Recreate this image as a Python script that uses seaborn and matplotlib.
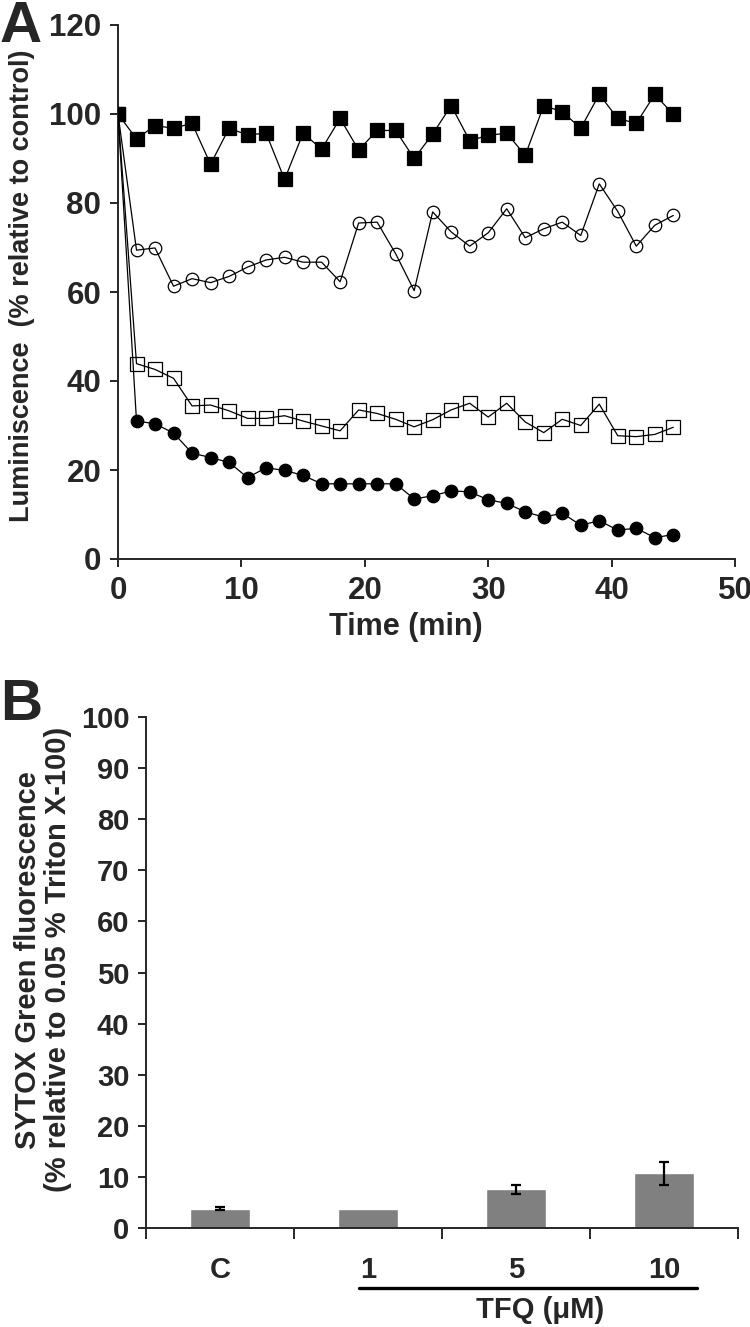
import numpy as np
import matplotlib
matplotlib.use("Agg")
import matplotlib.pyplot as plt
import seaborn as sns

# Panel A: luminiscence over time (sampled every 1.5 min)
time_min = [0, 1.5, 3, 4.5, 6, 7.5, 9, 10.5, 12, 13.5, 15, 16.5, 18, 19.5, 21, 22.5,
            24, 25.5, 27, 28.5, 30, 31.5, 33, 34.5, 36, 37.5, 39, 40.5, 42, 43.5, 45]
control = [100, 94.4, 97.4, 96.8, 97.9, 88.7, 96.8, 95.3, 95.7, 85.3, 95.7, 92.1, 99.0,
           91.9, 96.3, 96.3, 90.0, 95.5, 101.9, 94.0, 95.2, 95.7, 90.7, 101.9, 100.5,
           96.8, 104.4, 99.0, 97.9, 104.4, 99.9]
tfq_1 = [100, 69.4, 69.9, 61.3, 63.0, 62.1, 63.5, 65.6, 67.2, 67.8, 66.7, 66.7, 62.3,
         75.5, 75.7, 68.6, 60.3, 78.0, 73.5, 70.3, 73.3, 78.7, 72.2, 74.2, 75.7, 72.7,
         84.3, 78.1, 70.3, 75.0, 77.2]
tfq_5 = [100, 43.9, 42.6, 40.6, 34.4, 34.6, 33.3, 31.6, 31.6, 32.2, 31.0, 29.9, 28.8,
         33.5, 32.7, 31.4, 29.7, 31.3, 33.5, 35.0, 31.9, 35.0, 30.8, 28.4, 31.4, 30.0,
         34.8, 27.7, 27.5, 28.0, 29.6]
tfq_10 = [100, 31.0, 30.4, 28.3, 23.8, 22.8, 21.7, 18.3, 20.5, 19.9, 18.8, 16.9, 16.9,
          16.9, 16.9, 16.9, 13.5, 14.2, 15.3, 15.1, 13.3, 12.5, 10.6, 9.4, 10.3, 7.6,
          8.6, 6.5, 6.9, 4.8, 5.5]

# Panel B: SYTOX Green uptake
groups = ["C", "1", "5", "10"]
sytox_mean = [3.8, 3.8, 7.6, 10.7]
sytox_err = [0.3, 0.0, 0.9, 2.2]

sns.set_style("ticks")
plt.rcParams["font.family"] = ["Liberation Sans", "DejaVu Sans"]
plt.rcParams["font.weight"] = "bold"
plt.rcParams["axes.linewidth"] = 1.4

fig = plt.figure(figsize=(7.5, 13.27), dpi=100)
W, H = 750, 1327
ax_a = fig.add_axes([118 / W, 1 - 559 / H, 617 / W, 534 / H])
ax_b = fig.add_axes([146 / W, 1 - 1228 / H, 592 / W, 511 / H])

# ---- panel A ----
series = [
    (tfq_10, "o", "black", 9),
    (tfq_5, "s", "none", 9.5),
    (tfq_1, "o", "none", 9),
    (control, "s", "black", 9.5),
]
for i, (vals, mk, face, ms) in enumerate(series):
    sns.lineplot(x=time_min, y=vals, ax=ax_a, color="black", linewidth=0.9,
                 marker=mk, markersize=ms, markerfacecolor=face,
                 markeredgecolor="black", markeredgewidth=0.9, zorder=3 + i)

ax_a.set_xlim(0, 50)
ax_a.set_ylim(0, 120)
ax_a.set_xticks(range(0, 51, 10))
ax_a.set_yticks(range(0, 121, 20))
sns.despine(ax=ax_a)
ax_a.tick_params(direction="out", length=6, width=1.4, labelsize=22.5, pad=6)
ax_a.set_xlabel("Time (min)", fontsize=22, fontweight="bold")
ax_a.set_ylabel("Luminiscence  (% relative to control)", fontsize=19.5, fontweight="bold")
ax_a.xaxis.set_label_coords(0.467, -0.1)
ax_a.yaxis.set_label_coords(-0.135, 0.512)

# ---- panel B ----
sns.barplot(x=groups, y=sytox_mean, ax=ax_b, color="#808080", saturation=1,
            width=0.4, errorbar=None)
xs = np.arange(len(groups))
err = np.array(sytox_err)
mask = err > 0
ax_b.errorbar(xs[mask], np.array(sytox_mean)[mask], yerr=err[mask], fmt="none",
              ecolor="black", elinewidth=1.6, capsize=3.5, capthick=1.6, zorder=5)

ax_b.set_xlim(-0.5, 3.5)
ax_b.set_ylim(0, 100)
ax_b.set_yticks(range(0, 101, 10))
ax_b.set_xticks([-0.5, 0.5, 1.5, 2.5, 3.5])
ax_b.set_xticklabels([])
ax_b.set_xticks(xs, minor=True)
ax_b.set_xticklabels(groups, minor=True)
sns.despine(ax=ax_b)
ax_b.tick_params(axis="y", direction="out", length=6, width=1.4, labelsize=21, pad=6)
ax_b.tick_params(axis="x", which="major", direction="out", length=8, width=1.4)
ax_b.tick_params(axis="x", which="minor", length=0, labelsize=21, pad=20)
ax_b.set_xlabel("")
ax_b.set_ylabel("SYTOX Green fluorescence\n(% relative to 0.05 % Triton X-100)",
                fontsize=21, fontweight="bold", linespacing=1.1)
ax_b.yaxis.set_label_coords(-0.125, 0.525)

trans = matplotlib.transforms.blended_transform_factory(ax_b.transData, ax_b.transAxes)
ax_b.plot([0.94, 3.22], [-0.117, -0.117], color="black", linewidth=2.4,
          transform=trans, clip_on=False)
ax_b.text(2.16, -0.160, "TFQ (μM)", transform=trans, ha="center", va="center",
          fontsize=21, fontweight="bold")

fig.text(0.0, 1.0, "A", ha="left", va="top", fontsize=42, fontweight="bold")
fig.text(0.0, 1 - 678 / H, "B", ha="left", va="top", fontsize=42, fontweight="bold")

fig.savefig("out.png", dpi=100)
